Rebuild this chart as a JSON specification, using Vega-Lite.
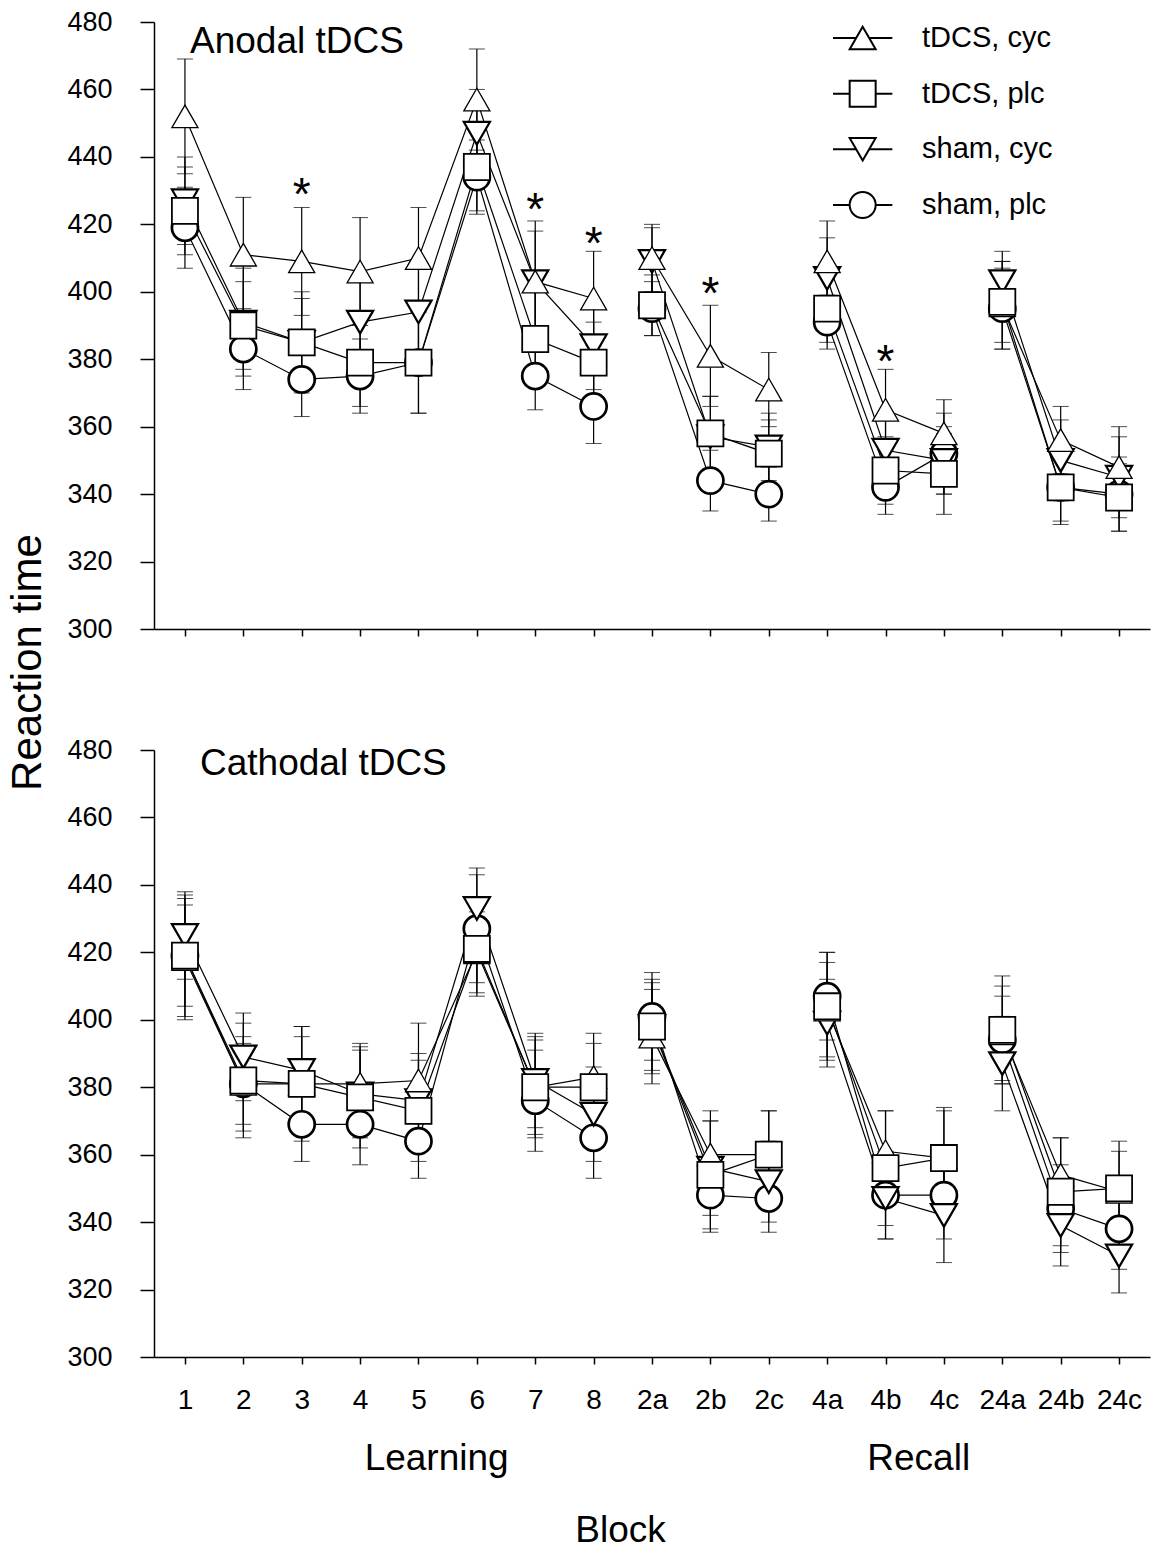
{
  "$schema": "https://vega.github.io/schema/vega-lite/v6.json",
  "padding": {"left": 6, "top": 8, "right": 20, "bottom": 2},
  "background": "white",
  "datasets": {
    "anodal": [
      {"block":"1","group":"sham, plc","seg":"L","rt":419,"sem":12},
      {"block":"2","group":"sham, plc","seg":"L","rt":383,"sem":12},
      {"block":"3","group":"sham, plc","seg":"L","rt":374,"sem":11},
      {"block":"4","group":"sham, plc","seg":"L","rt":375,"sem":11},
      {"block":"5","group":"sham, plc","seg":"L","rt":379,"sem":15},
      {"block":"6","group":"sham, plc","seg":"L","rt":434,"sem":11},
      {"block":"7","group":"sham, plc","seg":"L","rt":375,"sem":10},
      {"block":"8","group":"sham, plc","seg":"L","rt":366,"sem":11},
      {"block":"2a","group":"sham, plc","seg":"R2","rt":395,"sem":8},
      {"block":"2b","group":"sham, plc","seg":"R2","rt":344,"sem":9},
      {"block":"2c","group":"sham, plc","seg":"R2","rt":340,"sem":8},
      {"block":"4a","group":"sham, plc","seg":"R4","rt":391,"sem":8},
      {"block":"4b","group":"sham, plc","seg":"R4","rt":342,"sem":8},
      {"block":"4c","group":"sham, plc","seg":"R4","rt":352,"sem":12},
      {"block":"24a","group":"sham, plc","seg":"R24","rt":395,"sem":12},
      {"block":"24b","group":"sham, plc","seg":"R24","rt":342,"sem":10},
      {"block":"24c","group":"sham, plc","seg":"R24","rt":340,"sem":11},

      {"block":"1","group":"sham, cyc","seg":"L","rt":427,"sem":13},
      {"block":"2","group":"sham, cyc","seg":"L","rt":391,"sem":16},
      {"block":"3","group":"sham, cyc","seg":"L","rt":385,"sem":15},
      {"block":"4","group":"sham, cyc","seg":"L","rt":391,"sem":14},
      {"block":"5","group":"sham, cyc","seg":"L","rt":394,"sem":14},
      {"block":"6","group":"sham, cyc","seg":"L","rt":447,"sem":13},
      {"block":"7","group":"sham, cyc","seg":"L","rt":403,"sem":15},
      {"block":"8","group":"sham, cyc","seg":"L","rt":384,"sem":13},
      {"block":"2a","group":"sham, cyc","seg":"R2","rt":409,"sem":10},
      {"block":"2b","group":"sham, cyc","seg":"R2","rt":357,"sem":12},
      {"block":"2c","group":"sham, cyc","seg":"R2","rt":354,"sem":10},
      {"block":"4a","group":"sham, cyc","seg":"R4","rt":404,"sem":12},
      {"block":"4b","group":"sham, cyc","seg":"R4","rt":353,"sem":10},
      {"block":"4c","group":"sham, cyc","seg":"R4","rt":350,"sem":10},
      {"block":"24a","group":"sham, cyc","seg":"R24","rt":403,"sem":9},
      {"block":"24b","group":"sham, cyc","seg":"R24","rt":350,"sem":12},
      {"block":"24c","group":"sham, cyc","seg":"R24","rt":345,"sem":12},

      {"block":"1","group":"tDCS, cyc","seg":"L","rt":452,"sem":17},
      {"block":"2","group":"tDCS, cyc","seg":"L","rt":411,"sem":17},
      {"block":"3","group":"tDCS, cyc","seg":"L","rt":409,"sem":16},
      {"block":"4","group":"tDCS, cyc","seg":"L","rt":406,"sem":16},
      {"block":"5","group":"tDCS, cyc","seg":"L","rt":410,"sem":15},
      {"block":"6","group":"tDCS, cyc","seg":"L","rt":457,"sem":15},
      {"block":"7","group":"tDCS, cyc","seg":"L","rt":403,"sem":18},
      {"block":"8","group":"tDCS, cyc","seg":"L","rt":398,"sem":14},
      {"block":"2a","group":"tDCS, cyc","seg":"R2","rt":410,"sem":10},
      {"block":"2b","group":"tDCS, cyc","seg":"R2","rt":381,"sem":15},
      {"block":"2c","group":"tDCS, cyc","seg":"R2","rt":371,"sem":11},
      {"block":"4a","group":"tDCS, cyc","seg":"R4","rt":409,"sem":12},
      {"block":"4b","group":"tDCS, cyc","seg":"R4","rt":365,"sem":12},
      {"block":"4c","group":"tDCS, cyc","seg":"R4","rt":358,"sem":10},
      {"block":"24a","group":"tDCS, cyc","seg":"R24","rt":396,"sem":13},
      {"block":"24b","group":"tDCS, cyc","seg":"R24","rt":356,"sem":10},
      {"block":"24c","group":"tDCS, cyc","seg":"R24","rt":348,"sem":12},

      {"block":"1","group":"tDCS, plc","seg":"L","rt":424,"sem":13},
      {"block":"2","group":"tDCS, plc","seg":"L","rt":390,"sem":13},
      {"block":"3","group":"tDCS, plc","seg":"L","rt":385,"sem":13},
      {"block":"4","group":"tDCS, plc","seg":"L","rt":379,"sem":13},
      {"block":"5","group":"tDCS, plc","seg":"L","rt":379,"sem":15},
      {"block":"6","group":"tDCS, plc","seg":"L","rt":437,"sem":13},
      {"block":"7","group":"tDCS, plc","seg":"L","rt":386,"sem":14},
      {"block":"8","group":"tDCS, plc","seg":"L","rt":379,"sem":12},
      {"block":"2a","group":"tDCS, plc","seg":"R2","rt":396,"sem":9},
      {"block":"2b","group":"tDCS, plc","seg":"R2","rt":358,"sem":11},
      {"block":"2c","group":"tDCS, plc","seg":"R2","rt":352,"sem":10},
      {"block":"4a","group":"tDCS, plc","seg":"R4","rt":395,"sem":10},
      {"block":"4b","group":"tDCS, plc","seg":"R4","rt":347,"sem":10},
      {"block":"4c","group":"tDCS, plc","seg":"R4","rt":346,"sem":12},
      {"block":"24a","group":"tDCS, plc","seg":"R24","rt":397,"sem":12},
      {"block":"24b","group":"tDCS, plc","seg":"R24","rt":342,"sem":11},
      {"block":"24c","group":"tDCS, plc","seg":"R24","rt":339,"sem":10}
    ],
    "cathodal": [
      {"block":"1","group":"sham, plc","seg":"L","rt":419,"sem":15},
      {"block":"2","group":"sham, plc","seg":"L","rt":381,"sem":12},
      {"block":"3","group":"sham, plc","seg":"L","rt":369,"sem":11},
      {"block":"4","group":"sham, plc","seg":"L","rt":369,"sem":12},
      {"block":"5","group":"sham, plc","seg":"L","rt":364,"sem":11},
      {"block":"6","group":"sham, plc","seg":"L","rt":427,"sem":16},
      {"block":"7","group":"sham, plc","seg":"L","rt":376,"sem":15},
      {"block":"8","group":"sham, plc","seg":"L","rt":365,"sem":12},
      {"block":"2a","group":"sham, plc","seg":"R2","rt":401,"sem":13},
      {"block":"2b","group":"sham, plc","seg":"R2","rt":348,"sem":11},
      {"block":"2c","group":"sham, plc","seg":"R2","rt":347,"sem":10},
      {"block":"4a","group":"sham, plc","seg":"R4","rt":407,"sem":13},
      {"block":"4b","group":"sham, plc","seg":"R4","rt":348,"sem":13},
      {"block":"4c","group":"sham, plc","seg":"R4","rt":348,"sem":13},
      {"block":"24a","group":"sham, plc","seg":"R24","rt":394,"sem":13},
      {"block":"24b","group":"sham, plc","seg":"R24","rt":344,"sem":13},
      {"block":"24c","group":"sham, plc","seg":"R24","rt":338,"sem":12},

      {"block":"1","group":"sham, cyc","seg":"L","rt":425,"sem":13},
      {"block":"2","group":"sham, cyc","seg":"L","rt":389,"sem":13},
      {"block":"3","group":"sham, cyc","seg":"L","rt":385,"sem":13},
      {"block":"4","group":"sham, cyc","seg":"L","rt":378,"sem":13},
      {"block":"5","group":"sham, cyc","seg":"L","rt":376,"sem":14},
      {"block":"6","group":"sham, cyc","seg":"L","rt":433,"sem":12},
      {"block":"7","group":"sham, cyc","seg":"L","rt":382,"sem":14},
      {"block":"8","group":"sham, cyc","seg":"L","rt":372,"sem":14},
      {"block":"2a","group":"sham, cyc","seg":"R2","rt":398,"sem":14},
      {"block":"2b","group":"sham, cyc","seg":"R2","rt":356,"sem":14},
      {"block":"2c","group":"sham, cyc","seg":"R2","rt":352,"sem":12},
      {"block":"4a","group":"sham, cyc","seg":"R4","rt":399,"sem":13},
      {"block":"4b","group":"sham, cyc","seg":"R4","rt":347,"sem":12},
      {"block":"4c","group":"sham, cyc","seg":"R4","rt":342,"sem":14},
      {"block":"24a","group":"sham, cyc","seg":"R24","rt":387,"sem":14},
      {"block":"24b","group":"sham, cyc","seg":"R24","rt":339,"sem":12},
      {"block":"24c","group":"sham, cyc","seg":"R24","rt":330,"sem":11},

      {"block":"1","group":"tDCS, cyc","seg":"L","rt":418,"sem":18},
      {"block":"2","group":"tDCS, cyc","seg":"L","rt":381,"sem":14},
      {"block":"3","group":"tDCS, cyc","seg":"L","rt":381,"sem":14},
      {"block":"4","group":"tDCS, cyc","seg":"L","rt":381,"sem":12},
      {"block":"5","group":"tDCS, cyc","seg":"L","rt":382,"sem":17},
      {"block":"6","group":"tDCS, cyc","seg":"L","rt":420,"sem":12},
      {"block":"7","group":"tDCS, cyc","seg":"L","rt":380,"sem":14},
      {"block":"8","group":"tDCS, cyc","seg":"L","rt":383,"sem":10},
      {"block":"2a","group":"tDCS, cyc","seg":"R2","rt":395,"sem":14},
      {"block":"2b","group":"tDCS, cyc","seg":"R2","rt":360,"sem":13},
      {"block":"2c","group":"tDCS, cyc","seg":"R2","rt":360,"sem":13},
      {"block":"4a","group":"tDCS, cyc","seg":"R4","rt":403,"sem":14},
      {"block":"4b","group":"tDCS, cyc","seg":"R4","rt":361,"sem":12},
      {"block":"4c","group":"tDCS, cyc","seg":"R4","rt":359,"sem":14},
      {"block":"24a","group":"tDCS, cyc","seg":"R24","rt":396,"sem":14},
      {"block":"24b","group":"tDCS, cyc","seg":"R24","rt":354,"sem":11},
      {"block":"24c","group":"tDCS, cyc","seg":"R24","rt":349,"sem":12},

      {"block":"1","group":"tDCS, plc","seg":"L","rt":419,"sem":18},
      {"block":"2","group":"tDCS, plc","seg":"L","rt":382,"sem":17},
      {"block":"3","group":"tDCS, plc","seg":"L","rt":381,"sem":17},
      {"block":"4","group":"tDCS, plc","seg":"L","rt":377,"sem":15},
      {"block":"5","group":"tDCS, plc","seg":"L","rt":373,"sem":15},
      {"block":"6","group":"tDCS, plc","seg":"L","rt":421,"sem":14},
      {"block":"7","group":"tDCS, plc","seg":"L","rt":380,"sem":15},
      {"block":"8","group":"tDCS, plc","seg":"L","rt":380,"sem":16},
      {"block":"2a","group":"tDCS, plc","seg":"R2","rt":398,"sem":13},
      {"block":"2b","group":"tDCS, plc","seg":"R2","rt":354,"sem":16},
      {"block":"2c","group":"tDCS, plc","seg":"R2","rt":360,"sem":13},
      {"block":"4a","group":"tDCS, plc","seg":"R4","rt":404,"sem":16},
      {"block":"4b","group":"tDCS, plc","seg":"R4","rt":356,"sem":17},
      {"block":"4c","group":"tDCS, plc","seg":"R4","rt":359,"sem":15},
      {"block":"24a","group":"tDCS, plc","seg":"R24","rt":397,"sem":16},
      {"block":"24b","group":"tDCS, plc","seg":"R24","rt":349,"sem":16},
      {"block":"24c","group":"tDCS, plc","seg":"R24","rt":350,"sem":14}
    ],
    "stars": [
      {"block":"3","rt":432,"label":"*"},
      {"block":"7","rt":427.5,"label":"*"},
      {"block":"8","rt":417.5,"label":"*"},
      {"block":"2b","rt":402.5,"label":"*"},
      {"block":"4b","rt":382.5,"label":"*"}
    ],
    "legend": [
      {"group":"tDCS, cyc"},
      {"group":"tDCS, plc"},
      {"group":"sham, cyc"},
      {"group":"sham, plc"}
    ],
    "sections": [
      {"section":"Learning"},
      {"section":"Recall"}
    ]
  },
  "spacing": 121,
  "bounds": "flush",
  "vconcat": [
    {
      "width": 996,
      "height": 607,
      "title": {"text": "Anodal tDCS", "frame": "group", "anchor": "start", "orient": "top", "offset": -82, "baseline": "alphabetic", "dx": 36, "fontSize": 37, "fontWeight": "normal", "color": "black", "font": "Liberation Sans"},
      "resolve": {"scale": {"x": "independent", "y": "independent"}, "axis": {"x": "independent", "y": "independent"}},
      "layer": [
        {
          "encoding": {
            "x": {"field": "block", "type": "ordinal",
              "scale": {"type": "point", "domain": ["1","2","3","4","5","6","7","8","2a","2b","2c","4a","4b","4c","24a","24b","24c"], "padding": 0.53},
              "axis": {"labels": false, "title": null, "tickSize": 7}},
            "y": {"field": "rt", "type": "quantitative",
              "scale": {"domain": [300, 480], "nice": false, "zero": false},
              "axis": {"values": [300,320,340,360,380,400,420,440,460,480], "tickSize": 14, "labelFontSize": 27, "labelPadding": 28,
                "title": "Reaction time", "titleFontSize": 42, "titleX": -127, "titleY": 640, "titleAngle": -90, "titleAlign": "center", "titleBaseline": "middle"}}
          },
          "layer": [
            {"data": {"name": "anodal"},
             "mark": {"type": "errorbar", "color": "black", "ticks": {"size": 16, "color": "black"}, "rule": {"strokeWidth": 1.2}},
             "encoding": {"y": {"field": "rt", "type": "quantitative"}, "yError": {"field": "sem"}}},
            {"data": {"name": "anodal"},
             "mark": {"type": "line", "color": "black", "strokeWidth": 1.2},
             "encoding": {"detail": [{"field": "group"}, {"field": "seg"}]}},
            {"data": {"name": "anodal"},
             "mark": {"type": "point", "filled": true, "fill": "white", "stroke": "black", "size": 680, "opacity": 1},
             "encoding": {
               "shape": {"field": "group", "type": "nominal",
                 "scale": {"domain": ["tDCS, cyc","tDCS, plc","sham, cyc","sham, plc"], "range": ["triangle-up","square","triangle-down","circle"]},
                 "legend": null},
               "strokeWidth": {"field": "group", "type": "nominal",
                 "scale": {"domain": ["tDCS, cyc","tDCS, plc","sham, cyc","sham, plc"], "range": [1.3, 2.7, 1.3, 1.3]}, "legend": null}
             }},
            {"data": {"name": "stars"},
             "mark": {"type": "text", "fontSize": 46, "baseline": "alphabetic", "dy": 26, "color": "black", "font": "Liberation Sans"},
             "encoding": {"text": {"field": "label"}}}
          ]
        },
        {
          "data": {"name": "legend"},
          "encoding": {
            "y": {"field": "group", "type": "nominal",
              "scale": {"type": "point", "domain": ["tDCS, cyc","tDCS, plc","sham, cyc","sham, plc"], "range": [16, 183], "padding": 0},
              "axis": null}
          },
          "layer": [
            {"mark": {"type": "rule", "color": "black", "strokeWidth": 2},
             "encoding": {
               "x": {"datum": "line start", "type": "nominal",
                 "scale": {"type": "point", "domain": ["line start", "symbol", "line end", "label"], "range": [679, 768], "padding": 0},
                 "axis": null},
               "x2": {"datum": "line end"}
             }},
            {"mark": {"type": "point", "filled": true, "fill": "white", "stroke": "black", "strokeWidth": 2, "size": 676, "opacity": 1},
             "encoding": {
               "x": {"datum": "symbol", "type": "nominal"},
               "shape": {"field": "group", "type": "nominal",
                 "scale": {"domain": ["tDCS, cyc","tDCS, plc","sham, cyc","sham, plc"], "range": ["triangle-up","square","triangle-down","circle"]},
                 "legend": null}
             }},
            {"mark": {"type": "text", "align": "left", "baseline": "middle", "fontSize": 29, "color": "black", "font": "Liberation Sans"},
             "encoding": {
               "x": {"datum": "label", "type": "nominal"},
               "text": {"field": "group"}
             }}
          ]
        }
      ]
    },
    {
      "width": 996,
      "height": 607,
      "title": {"text": "Cathodal tDCS", "frame": "group", "anchor": "start", "orient": "top", "offset": -76, "baseline": "alphabetic", "dx": 46, "fontSize": 37, "fontWeight": "normal", "color": "black", "font": "Liberation Sans"},
      "resolve": {"scale": {"x": "independent"}, "axis": {"x": "independent"}},
      "layer": [
        {
          "data": {"name": "cathodal"},
          "encoding": {
            "x": {"field": "block", "type": "ordinal",
              "scale": {"type": "point", "domain": ["1","2","3","4","5","6","7","8","2a","2b","2c","4a","4b","4c","24a","24b","24c"], "padding": 0.53},
              "axis": {"title": null, "tickSize": 7, "labelFontSize": 28, "labelPadding": 22, "labelAngle": 0}},
            "y": {"field": "rt", "type": "quantitative",
              "scale": {"domain": [300, 480], "nice": false, "zero": false},
              "axis": {"values": [300,320,340,360,380,400,420,440,460,480], "tickSize": 14, "labelFontSize": 27, "labelPadding": 28, "title": null}}
          },
          "layer": [
            {"mark": {"type": "errorbar", "color": "black", "ticks": {"size": 16, "color": "black"}, "rule": {"strokeWidth": 1.2}},
             "encoding": {"y": {"field": "rt", "type": "quantitative"}, "yError": {"field": "sem"}}},
            {"mark": {"type": "line", "color": "black", "strokeWidth": 1.2},
             "encoding": {"detail": [{"field": "group"}, {"field": "seg"}]}},
            {"mark": {"type": "point", "filled": true, "fill": "white", "stroke": "black", "size": 680, "opacity": 1},
             "encoding": {
               "shape": {"field": "group", "type": "nominal",
                 "scale": {"domain": ["tDCS, cyc","tDCS, plc","sham, cyc","sham, plc"], "range": ["triangle-up","square","triangle-down","circle"]},
                 "legend": null},
               "strokeWidth": {"field": "group", "type": "nominal",
                 "scale": {"domain": ["tDCS, cyc","tDCS, plc","sham, cyc","sham, plc"], "range": [1.3, 2.7, 1.3, 1.3]}, "legend": null}
             }}
          ]
        },
        {
          "data": {"name": "sections"},
          "mark": {"type": "text", "opacity": 0, "text": " "},
          "encoding": {
            "x": {"field": "section", "type": "nominal",
              "scale": {"type": "point", "domain": ["Learning", "Recall"], "padding": 0.533, "align": 0.549},
              "axis": {"orient": "bottom", "offset": 83, "ticks": false, "tickSize": 0, "domain": false, "labelPadding": 0, "labelFontSize": 37, "labelAngle": 0,
                "title": "Block", "titleFontSize": 37, "titlePadding": 36, "titleX": 466, "titleAlign": "center"}}
          }
        }
      ]
    }
  ],
  "config": {
    "view": {"stroke": null},
    "font": "Liberation Sans",
    "axis": {"domainColor": "black", "tickColor": "black", "labelColor": "black", "titleColor": "black", "grid": false,
      "domainWidth": 1.5, "tickWidth": 1.5, "labelFont": "Liberation Sans", "titleFont": "Liberation Sans", "titleFontWeight": "normal"}
  }
}
